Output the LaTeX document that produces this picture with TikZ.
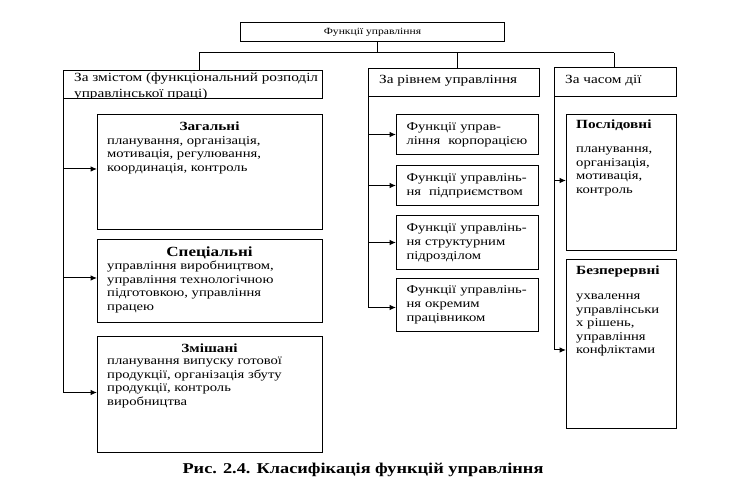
\documentclass[tikz,border=0pt]{standalone}
\usepackage{fontspec}
\setmainfont[FakeStretch=1.22]{Liberation Serif}
\usetikzlibrary{arrows.meta}
\begin{document}
\begin{tikzpicture}[x=1pt,y=-1pt,
 box/.style={draw, line width=1pt, inner sep=0pt, anchor=north west},
 ln/.style={line width=1pt},
 arr/.style={line width=1pt, -{Latex[length=6.5pt,width=5.5pt]}},
 body/.style={font=\fontsize{12}{13.5}\selectfont, align=left, inner sep=0pt, anchor=north west},
 ttl/.style={font=\bfseries\fontsize{12.5}{14}\selectfont, inner sep=0pt},
 mbox/.style={box, minimum width=142pt, text width=122pt, inner xsep=10pt, align=left, font=\fontsize{12}{14}\selectfont},
]
\useasboundingbox[fill=white] (0,0) rectangle (748,486);

% top
\node[box, minimum width=264pt, minimum height=19pt, font=\fontsize{9.5}{11}\selectfont] (top) at (240,22) {Функції управління};

% level 1 boxes
\node[box, minimum width=259pt, minimum height=28pt] (zm) at (63,70) {};
\begin{scope}
\clip (63,70) rectangle (322,98);
\node[body, font=\fontsize{12.5}{15.5}\selectfont] (zmt) at (74,73) {За змістом (функціональний розподіл\\управлінської праці)};
\end{scope}
\node[box, minimum width=171pt, minimum height=28pt] (rv) at (368,68) {};
\node[anchor=west, inner sep=0pt, font=\fontsize{12.5}{14}\selectfont] (rvt) at (379,81) {За рівнем управління};
\node[box, minimum width=122pt, minimum height=29pt] (ch) at (554,67) {};
\node[anchor=west, inner sep=0pt, font=\fontsize{12.5}{14}\selectfont] (cht) at (565,81) {За часом дії};

% left column
\node[box, minimum width=225pt, minimum height=115pt] (zag) at (97,114) {};
\node[ttl] (zagt) at (209.5,126) {Загальні};
\node[body] (zagb) at (107,136) {планування, організація,\\мотивація, регулювання,\\координація, контроль};

\node[box, minimum width=225pt, minimum height=83pt] (spec) at (97,239) {};
\node[ttl, font=\bfseries\fontsize{14}{16}\selectfont] (spect) at (209.5,253) {Спеціальні};
\node[body] (specb) at (107,261) {управління виробництвом,\\управління технологічною\\підготовкою, управління\\працею};

\node[box, minimum width=225pt, minimum height=116pt] (zmish) at (97,336) {};
\node[ttl] (zmisht) at (209.5,348) {Змішані};
\node[body] (zmishb) at (107,357) {планування випуску готової\\продукції, організація збуту\\продукції, контроль\\виробництва};

% middle column
\node[mbox, minimum height=40pt] (m1) at (396,114) {Функції управ-\\ління\ \ корпорацією};
\node[mbox, minimum height=40pt] (m2) at (396,165) {Функції управлінь-\\ня\ \ підприємством};
\node[mbox, minimum height=54pt] (m3) at (396,215) {Функції управлінь-\\ня структурним\\підрозділом};
\node[mbox, minimum height=53pt] (m4) at (396,278) {Функції управлінь-\\ня окремим\\працівником};

% right column
\node[box, minimum width=110pt, minimum height=136pt] (pos) at (566,114) {};
\node[ttl, anchor=north west] (post) at (576,120) {Послідовні};
\node[body] (posb) at (576,147) {планування,\\організація,\\мотивація,\\контроль};
\node[box, minimum width=110pt, minimum height=169pt] (bez) at (566,259) {};
\node[ttl, anchor=north west] (bezt) at (576,266) {Безперервні};
\node[body] (bezb) at (576,294) {ухвалення\\управлінськи\\х рішень,\\управління\\конфліктами};

% caption
\node[font=\bfseries\fontsize{15}{17}\selectfont, inner sep=0pt] (cap) at (363,470) {Рис. 2.4. Класифікація функцій управління};

% connectors top
\coordinate (jT) at (377,53);
\coordinate (jL) at (199,53);
\coordinate (jM) at (457,53);
\coordinate (jR) at (614,53);
\draw[ln] (top.south -| jT) -- (jT);
\draw[ln] (jL) -- (jR);
\draw[ln] (jL) -- (jL |- zm.north);
\draw[ln] (jM) -- (jM |- rv.north);
\draw[ln] (jR) -- (jR |- ch.north);

% left column connectors
\coordinate (aZag) at ([yshift=3pt]zag.west);
\coordinate (aSpec) at ([yshift=3pt]spec.west);
\coordinate (aZm) at ([yshift=2pt]zmish.west);
\draw[arr] (zm.south west) |- (aZm);
\draw[arr] (zm.south west |- aZag) -- (aZag);
\draw[arr] (zm.south west |- aSpec) -- (aSpec);

% middle column connectors
\coordinate (a4) at ([yshift=-2.5pt]m4.west);
\draw[arr] (rv.south west) |- (a4);
\draw[arr] (rv.south west |- m1.west) -- (m1.west);
\draw[arr] (rv.south west |- m2.west) -- (m2.west);
\draw[arr] (rv.south west |- m3.west) -- (m3.west);

% right column connectors
\coordinate (aPos) at ([yshift=2pt]pos.west);
\coordinate (aBez) at ([yshift=-6pt]bez.west);
\draw[arr] (ch.south west) |- (aBez);
\draw[arr] (ch.south west |- aPos) -- (aPos);
\end{tikzpicture}
\end{document}
